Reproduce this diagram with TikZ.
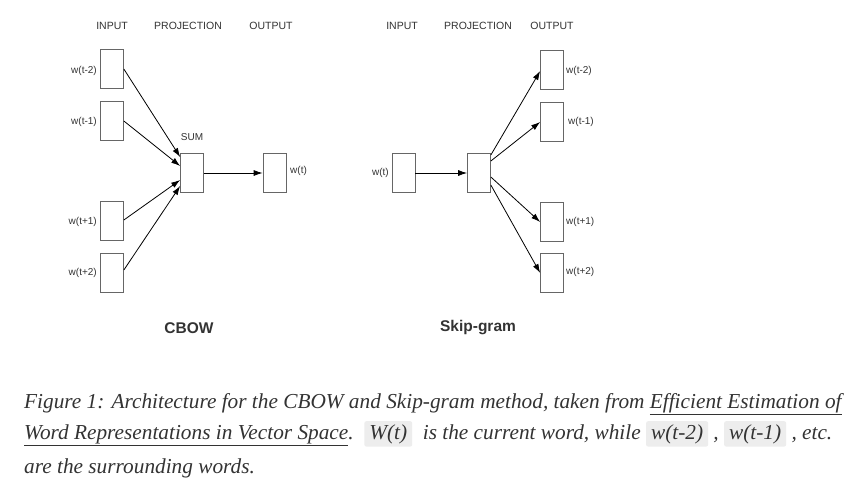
\documentclass[tikz,border=0pt]{standalone}
\usepackage{fontspec}
\setmainfont{Liberation Serif}
\newfontfamily\diagfont{Liberation Sans}
\usetikzlibrary{arrows.meta}
\definecolor{boxline}{HTML}{666666}
\definecolor{txt}{HTML}{333333}
\definecolor{codebg}{HTML}{EDEDED}
\newcommand{\codespan}[1]{\tikz[baseline=(cs.base)]\node[fill=codebg,rounded corners=2pt,inner xsep=5pt,inner ysep=3pt](cs){#1};}
\begin{document}
\begin{tikzpicture}[x=1pt,y=-1pt,
  vec/.style={draw=boxline,line width=0.7pt,fill=white,minimum width=23pt,minimum height=39pt,inner sep=0pt},
  lab/.style={font=\diagfont\fontsize{10}{11}\selectfont,text=txt,inner sep=0pt},
  head/.style={font=\diagfont\fontsize{10.5}{12}\selectfont,text=txt,inner sep=0pt},
  ttl/.style={font=\diagfont\bfseries\fontsize{15.5}{17}\selectfont,text=txt,inner sep=0pt},
  arr/.style={line width=0.8pt,-{Latex[length=9pt,width=6pt]}},
  captxt/.style={font=\itshape\fontsize{21.3}{24}\selectfont,text=txt,inner sep=0pt,anchor=base west}]
\useasboundingbox (0,0) rectangle (866,500);
\fill[white] (0,0) rectangle (866,500);
% CBOW
\node[head] (ci) at (112,26) {INPUT};
\node[head] (cp) at (188,26) {PROJECTION};
\node[head] (co) at (271,26) {OUTPUT};
\node[vec] (a1) at (112,68.5) {};
\node[vec] (a2) at (112,120.5) {};
\node[vec] (a3) at (112,220.5) {};
\node[vec] (a4) at (112,272.5) {};
\node[vec] (sum) at (192,173) {};
\node[vec] (out) at (274.5,172.5) {};
\node[lab,anchor=east] (la1) at (97,71) {w(t-2)};
\node[lab,anchor=east] (la2) at (97,122) {w(t-1)};
\node[lab,anchor=east] (la3) at (97,222) {w(t+1)};
\node[lab,anchor=east] (la4) at (97,273) {w(t+2)};
\node[lab] (ls) at (192,137) {SUM};
\node[lab,anchor=west] (lo) at (290,171) {w(t)};
\draw[arr] (a1.east |- 0,69) -- (sum.west |- 0,157);
\draw[arr] (a2.east |- 0,121) -- (sum.west |- 0,166);
\draw[arr] (a3.east |- 0,220) -- (sum.west |- 0,180);
\draw[arr] (a4.east |- 0,270) -- (sum.west |- 0,186);
\draw[arr] (sum.east |- 0,173) -- (out.west |- 0,173);
\node[ttl] (cbow) at (189,328) {CBOW};
% Skip-gram
\node[head] (si) at (402,26) {INPUT};
\node[head] (sp) at (478,26) {PROJECTION};
\node[head] (so) at (552,26) {OUTPUT};
\node[vec] (in) at (403.5,173) {};
\node[vec] (proj) at (479,173) {};
\node[vec] (b1) at (552,70) {};
\node[vec] (b2) at (552,122) {};
\node[vec] (b3) at (552,222) {};
\node[vec] (b4) at (552,273) {};
\node[lab,anchor=east] (lin) at (389,173) {w(t)};
\node[lab,anchor=west] (lb1) at (566,71) {w(t-2)};
\node[lab,anchor=west] (lb2) at (568,122) {w(t-1)};
\node[lab,anchor=west] (lb3) at (566,222) {w(t+1)};
\node[lab,anchor=west] (lb4) at (566,272) {w(t+2)};
\draw[arr] (in.east |- 0,173) -- (proj.west |- 0,173);
\draw[arr] (proj.east |- 0,155) -- (b1.west |- 0,71);
\draw[arr] (proj.east |- 0,161) -- (b2.west |- 0,122);
\draw[arr] (proj.east |- 0,177) -- (b3.west |- 0,222);
\draw[arr] (proj.east |- 0,185) -- (b4.west |- 0,273);
\node[ttl] (skip) at (478,328) {Skip-gram};
% caption
\node[captxt] (c1) at (24,408) {Figure 1: Architecture for the CBOW and Skip-gram method, taken from \underline{Efficient Estimation of}};
\node[captxt] (c2) at (24,439) {\underline{Word Representations in Vector Space}.\ \ \codespan{W(t)}\ \ is the current word, while \codespan{w(t-2)}\ , \codespan{w(t-1)}\ , etc.};
\node[captxt] (c3) at (24,473) {are the surrounding words.};
\end{tikzpicture}
\end{document}
